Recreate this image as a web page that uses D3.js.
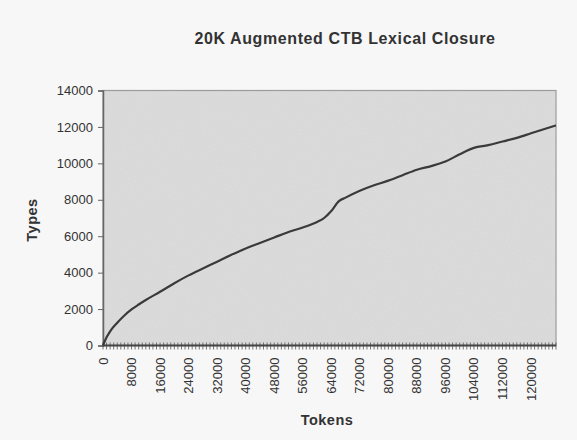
<!DOCTYPE html>
<html>
<head>
<meta charset="utf-8">
<script src="https://cdn.jsdelivr.net/npm/d3@7"></script>
<style>
  body { margin: 0; background: #f7f7f7; }
  text { font-family: Arial, "Liberation Sans", sans-serif; fill: #333; }
</style>
</head>
<body>
<div id="chart"></div>
<script>
// data
var tokens = [0, 1000, 2000, 4000, 6000, 8000, 10000, 12000, 16000, 20000, 24000, 28000, 32000,
  36000, 40000, 44000, 48000, 52000, 56000, 60000, 62000, 64000, 66000, 68000, 72000,
  76000, 80000, 84000, 88000, 92000, 96000, 100000, 104000, 108000, 112000, 116000,
  120000, 124000, 127000];
var types = [0, 450, 780, 1250, 1650, 1980, 2250, 2500, 2950, 3420, 3850, 4230, 4600,
  4980, 5330, 5630, 5930, 6230, 6480, 6780, 7000, 7380, 7900, 8120, 8500,
  8800, 9050, 9350, 9650, 9850, 10100, 10500, 10850, 11000, 11200, 11400,
  11650, 11900, 12080];
var yTicks = [0, 2000, 4000, 6000, 8000, 10000, 12000, 14000];
var xTickLabels = [0, 8000, 16000, 24000, 32000, 40000, 48000, 56000, 64000, 72000,
  80000, 88000, 96000, 104000, 112000, 120000];

var svgWidth = 577;
var svgHeight = 440;
var margin = { top: 90.5, right: 21, bottom: 94.5, left: 103 };
var chartWidth = svgWidth - margin.left - margin.right;
var chartHeight = svgHeight - margin.top - margin.bottom;

var svg = d3.select("#chart")
  .append("svg")
  .attr("width", svgWidth)
  .attr("height", svgHeight);

// grainy fill like the scanned original
var defs = svg.append("defs");
var filt = defs.append("filter").attr("id", "grain");
filt.append("feTurbulence")
  .attr("type", "fractalNoise")
  .attr("baseFrequency", 0.9)
  .attr("numOctaves", 1)
  .attr("result", "noise");
filt.append("feColorMatrix")
  .attr("type", "matrix")
  .attr("values", "0 0 0 0 0.5  0 0 0 0 0.5  0 0 0 0 0.5  0 0 0 0.25 0");
filt.append("feComposite").attr("in2", "SourceGraphic").attr("operator", "in");

var chartGroup = svg.append("g")
  .attr("transform", `translate(${margin.left}, ${margin.top})`);

var xScale = d3.scaleLinear().domain([0, 127000]).range([0, chartWidth]);
var yScale = d3.scaleLinear().domain([0, 14000]).range([chartHeight, 0]);

// plot area
chartGroup.append("rect")
  .attr("width", chartWidth)
  .attr("height", chartHeight)
  .attr("fill", "#dedede")
  .attr("stroke", "#999")
  .attr("stroke-width", 1.2);
chartGroup.append("rect")
  .attr("width", chartWidth)
  .attr("height", chartHeight)
  .attr("fill", "#fff")
  .attr("filter", "url(#grain)");

// y axis
var leftAxis = d3.axisLeft(yScale)
  .tickValues(yTicks)
  .tickFormat(d3.format("d"))
  .tickSize(5)
  .tickPadding(5);
var yAxis = chartGroup.append("g").call(leftAxis);
yAxis.select(".domain").attr("stroke", "#666").attr("stroke-width", 1.5);
yAxis.selectAll(".tick line").attr("stroke", "#666");
yAxis.selectAll("text").attr("font-size", "13px").attr("fill", "#333");

// x axis: minor ticks every 1000 crossing the axis
var xAxis = chartGroup.append("g").attr("transform", `translate(0, ${chartHeight})`);
xAxis.selectAll("line.minor")
  .data(d3.range(0, 127001, 1000))
  .enter()
  .append("line")
  .attr("x1", d => xScale(d))
  .attr("x2", d => xScale(d))
  .attr("y1", -3)
  .attr("y2", 4)
  .attr("stroke", "#555")
  .attr("stroke-width", 0.8);
xAxis.append("line")
  .attr("x1", 0)
  .attr("x2", chartWidth)
  .attr("stroke", "#444")
  .attr("stroke-width", 2);
xAxis.selectAll("text")
  .data(xTickLabels)
  .enter()
  .append("text")
  .attr("transform", d => `translate(${xScale(d) + 4.5}, 12) rotate(-90)`)
  .attr("text-anchor", "end")
  .attr("font-size", "13px")
  .text(d => d);

// the curve
var line = d3.line()
  .x((d, i) => xScale(tokens[i]))
  .y(d => yScale(d))
  .curve(d3.curveMonotoneX);
chartGroup.append("path")
  .datum(types)
  .attr("d", line)
  .attr("fill", "none")
  .attr("stroke", "#3a3a3a")
  .attr("stroke-width", 2.2);

// title and axis labels
svg.append("text")
  .attr("x", 345)
  .attr("y", 44)
  .attr("text-anchor", "middle")
  .attr("font-size", "16px")
  .attr("font-weight", "bold")
  .attr("letter-spacing", "0.6px")
  .text("20K Augmented CTB Lexical Closure");

svg.append("text")
  .attr("transform", "translate(37, 220) rotate(-90)")
  .attr("text-anchor", "middle")
  .attr("font-size", "14.5px")
  .attr("font-weight", "bold")
  .attr("letter-spacing", "0.5px")
  .text("Types");

svg.append("text")
  .attr("x", 327)
  .attr("y", 425)
  .attr("text-anchor", "middle")
  .attr("font-size", "14.5px")
  .attr("font-weight", "bold")
  .attr("letter-spacing", "0.5px")
  .text("Tokens");
</script>
</body>
</html>
